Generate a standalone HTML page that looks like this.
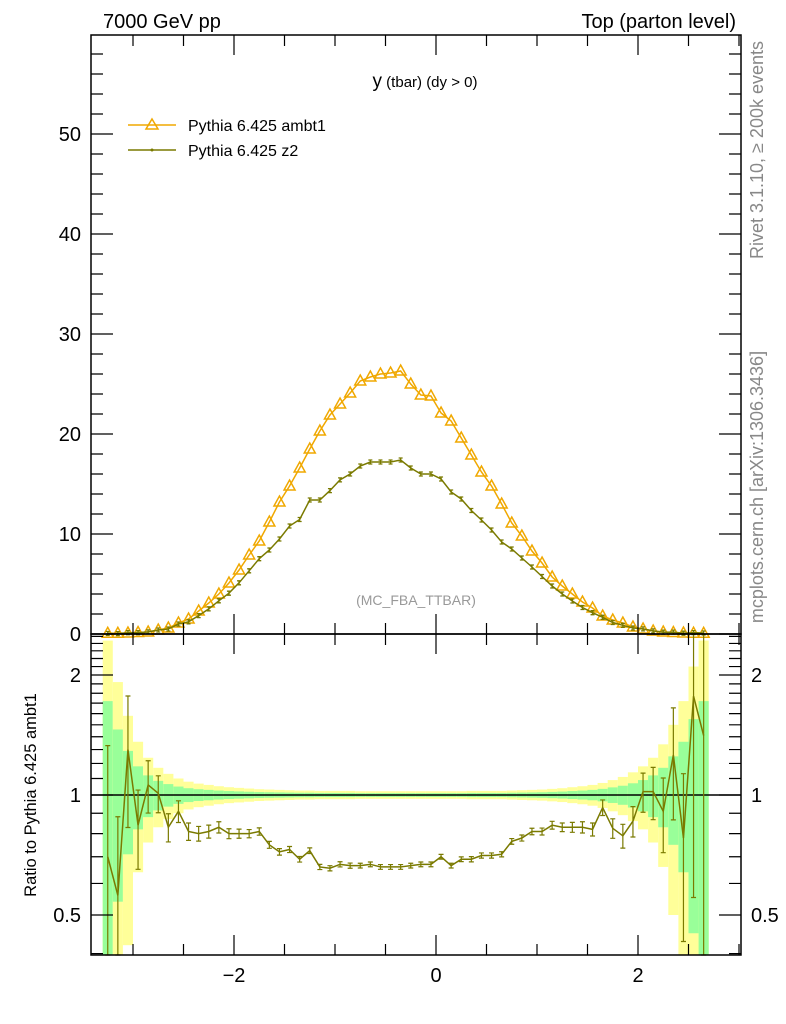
<!DOCTYPE html>
<html><head><meta charset="utf-8"><style>
body{margin:0;background:#fff;}
svg{display:block;font-family:"Liberation Sans",sans-serif;}
</style></head><body>
<svg id="chart" width="786" height="1024" viewBox="0 0 786 1024">
<text x="103" y="28" font-size="20">7000 GeV pp</text>
<text x="736" y="28" font-size="20" text-anchor="end">Top (parton level)</text>
<text x="425" y="87" text-anchor="middle"><tspan font-size="19">y</tspan><tspan font-size="15"> (tbar) (dy &gt; 0)</tspan></text>
<text x="416" y="605" font-size="14" fill="#999" text-anchor="middle">(MC_FBA_TTBAR)</text>
<text transform="translate(763,150) rotate(-90)" font-size="18" fill="#888" text-anchor="middle">Rivet 3.1.10, ≥ 200k events</text>
<text transform="translate(763,487) rotate(-90)" font-size="18" fill="#888" text-anchor="middle">mcplots.cern.ch [arXiv:1306.3436]</text>
<text transform="translate(36,795) rotate(-90)" font-size="16.5" text-anchor="middle">Ratio to Pythia 6.425 ambt1</text>
<g id="legend">
<g>
<line x1="128" y1="125" x2="176" y2="125" stroke="#f0a800" stroke-width="1.5"/>
<path d="M152,119 L158,129 L146,129 Z" fill="none" stroke="#f0a800" stroke-width="1.5"/>
<text x="188" y="131" font-size="16">Pythia 6.425 ambt1</text></g>
<g>
<line x1="128" y1="150" x2="176" y2="150" stroke="#7a7a00" stroke-width="1.5"/>
<circle cx="152" cy="150" r="1.5" fill="#7a7a00"/>
<text x="188" y="156" font-size="16">Pythia 6.425 z2</text></g>
</g>
<g id="bands"></g>
<g id="marks"></g>
<g id="axes"></g>
</svg>
<script>
const centers=[-3.25,-3.15,-3.05,-2.95,-2.85,-2.75,-2.65,-2.55,-2.45,-2.35,-2.25,-2.15,-2.05,-1.95,-1.85,-1.75,-1.65,-1.55,-1.45,-1.35,-1.25,-1.15,-1.05,-0.95,-0.85,-0.75,-0.65,-0.55,-0.45,-0.35,-0.25,-0.15,-0.05,0.05,0.15,0.25,0.35,0.45,0.55,0.65,0.75,0.85,0.95,1.05,1.15,1.25,1.35,1.45,1.55,1.65,1.75,1.85,1.95,2.05,2.15,2.25,2.35,2.45,2.55,2.65];
const ambt1=[0.07,0.07,0.1,0.15,0.2,0.4,0.6,1.1,1.5,2.3,3.1,4.0,5.1,6.4,7.9,9.3,11.2,13.2,14.8,16.6,18.5,20.3,21.9,23.0,24.1,25.3,25.7,26.0,26.1,26.3,25.0,23.9,23.8,22.1,21.3,19.6,17.9,16.2,14.8,13.0,11.1,9.8,8.3,7.1,5.7,4.8,4.0,3.2,2.6,1.8,1.4,1.1,0.7,0.5,0.3,0.2,0.15,0.1,0.08,0.07];
const z2=[0.05,0.04,0.13,0.13,0.21,0.40,0.50,1.0,1.22,1.84,2.51,3.32,4.08,5.12,6.32,7.53,8.4,9.5,10.8,11.45,13.4,13.4,14.34,15.41,16.0,16.8,17.2,17.2,17.2,17.4,16.6,16.0,16.0,15.5,14.2,13.5,12.35,11.4,10.4,9.2,8.5,7.6,6.7,5.75,4.8,4.0,3.3,2.65,2.13,1.67,1.15,0.87,0.6,0.51,0.31,0.18,0.19,0.08,0.14,0.10];
const ratio=[0.70,0.56,1.30,0.84,1.06,1.01,0.83,0.91,0.81,0.80,0.81,0.83,0.80,0.80,0.80,0.81,0.75,0.72,0.73,0.69,0.725,0.66,0.655,0.67,0.665,0.665,0.67,0.66,0.66,0.66,0.665,0.67,0.67,0.70,0.665,0.69,0.69,0.705,0.705,0.71,0.765,0.78,0.81,0.81,0.84,0.83,0.83,0.83,0.82,0.93,0.825,0.79,0.86,1.02,1.02,0.91,1.26,0.78,1.77,1.41];
const relErr=[0.72,0.46,0.29,0.18,0.12,0.085,0.065,0.05,0.04,0.034,0.03,0.026,0.023,0.021,0.019,0.017,0.016,0.015,0.014,0.013,0.013,0.012,0.012,0.012,0.012,0.011,0.011,0.011,0.011,0.011,0.011,0.011,0.011,0.011,0.011,0.011,0.012,0.012,0.012,0.012,0.013,0.014,0.015,0.016,0.018,0.02,0.023,0.026,0.03,0.036,0.045,0.055,0.07,0.09,0.12,0.17,0.25,0.36,0.55,0.72];
const mainTicks=[0,10,20,30,40,50];
const ratioTicks=[0.5,1,2];
const xTicks=[-2,0,2];

const NS='http://www.w3.org/2000/svg';
const L=91,R=741,T=35,M=634,B=955,BW=0.1;
const X=v=>436+101*v;
const Y=v=>M-10*v;
const RY=v=>795-120*Math.log2(v);
const RYc=v=>Math.min(B,Math.max(M,RY(Math.max(v,0.05))));
function mk(tag,attrs,parent){const e=document.createElementNS(NS,tag);for(const k in attrs)e.setAttribute(k,attrs[k]);parent.appendChild(e);return e;}
const bands=document.getElementById('bands'),marks=document.getElementById('marks'),axes=document.getElementById('axes');

centers.forEach((c,i)=>{
  const x0=X(c-BW/2),w=X(c+BW/2)-x0,e=relErr[i];
  const yb=mk('rect',{x:x0,y:RYc(1+2*e),width:w,height:RYc(1-2*e)-RYc(1+2*e),fill:'#ffff99'},bands);
  
  
  const gb=mk('rect',{x:x0,y:RYc(1+e),width:w,height:RYc(1-e)-RYc(1+e),fill:'#99ff99'},bands);
  
  
});
const ref=mk('line',{x1:L,x2:R,y1:RY(1),y2:RY(1),stroke:'#000','stroke-width':1.5},marks);



const pa=mk('polyline',{points:centers.map((c,i)=>X(c)+','+Y(ambt1[i])).join(' '),fill:'none',stroke:'#f0a800','stroke-width':1.5},marks);


centers.forEach((c,i)=>{const x=X(c),y=Y(ambt1[i]);
  const t=mk('path',{d:`M${x},${y-6} L${x+5.5},${y+4} L${x-5.5},${y+4} Z`,fill:'none',stroke:'#f0a800','stroke-width':1.5},marks);
  
  
});
const pz=mk('polyline',{points:centers.map((c,i)=>X(c)+','+Y(z2[i])).join(' '),fill:'none',stroke:'#7a7a00','stroke-width':1.5},marks);


centers.forEach((c,i)=>{const x=X(c),y=Y(z2[i]);
  const p=mk('path',{d:`M${x-2},${y-2}h4M${x},${y-2}v4M${x-2},${y+2}h4`,stroke:'#7a7a00','stroke-width':1.3},marks);
  
  
});

const pr=mk('polyline',{points:centers.map((c,i)=>X(c)+','+RYc(ratio[i])).join(' '),fill:'none',stroke:'#7a7a00','stroke-width':1.5},marks);


centers.forEach((c,i)=>{const x=X(c),e=relErr[i]*1.25;
  const y1=RYc(ratio[i]*(1+e)),y2=RYc(ratio[i]*(1-e));
  const p=mk('path',{d:`M${x},${y1}V${y2}M${x-2.5},${y1}h5M${x-2.5},${y2}h5`,stroke:'#7a7a00','stroke-width':1.2},marks);
  
  
});

[[T,M],[M,B]].forEach(([a,b],k)=>{
  const f=mk('rect',{x:L,y:a,width:R-L,height:b-a,fill:'none',stroke:'#000','stroke-width':1.5},axes);
  
  
});
for(let v=0;v<=58;v+=2){const y=Y(v),len=v%10===0?22:12;
  mk('path',{d:`M${L},${y}h${len}M${R},${y}h${-len}`,stroke:'#000','stroke-width':1.2},axes);}
mainTicks.forEach(v=>{const t=mk('text',{x:81,y:Y(v)+7,'font-size':20,'text-anchor':'end'},axes);t.textContent=v;
  
  });
for(let v=-3;v<=3;v+=0.5){const x=X(v);if(x<L||x>R)continue;const maj=Math.abs(v%2)<1e-9;const len=maj?20:11;
  mk('path',{d:`M${x},${T}v${len}M${x},${M}v${-len}M${x},${M}v${len}M${x},${B}v${-len}`,stroke:'#000','stroke-width':1.2},axes);}
xTicks.forEach(v=>{const t=mk('text',{x:X(v),y:982,'font-size':20,'text-anchor':'middle'},axes);t.textContent=v<0?'\u2212'+(-v):v;
  
  });
[0.4,0.5,0.6,0.7,0.8,0.9,1,1.1,1.2,1.3,1.4,1.5,1.6,1.7,1.8,1.9,2,2.1,2.2,2.3,2.4,2.5].forEach(v=>{const y=RY(v);if(y<M||y>B)return;
  const len=ratioTicks.includes(v)?22:12;
  mk('path',{d:`M${L},${y}h${len}M${R},${y}h${-len}`,stroke:'#000','stroke-width':1.2},axes);});
ratioTicks.forEach(v=>{
  const t=mk('text',{x:81,y:RY(v)+7,'font-size':20,'text-anchor':'end'},axes);t.textContent=v;
  
  
  const t2=mk('text',{x:751,y:RY(v)+7,'font-size':20},axes);t2.textContent=v;
  
  
});
</script>
</body></html>
